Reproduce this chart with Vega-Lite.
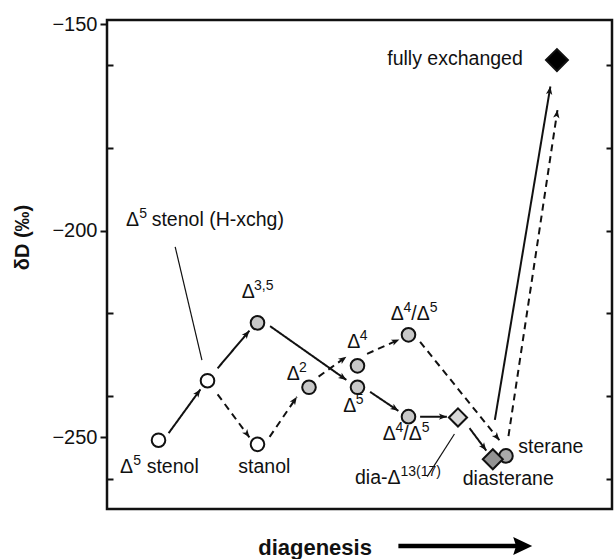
{
  "$schema": "https://vega.github.io/schema/vega-lite/v6.json",
  "autosize": "none",
  "width": 505,
  "height": 489,
  "padding": {"left": 107, "top": 20, "right": 2, "bottom": 50},
  "background": "white",
  "config": {
    "view": {"stroke": "#111111", "strokeWidth": 2.5},
    "font": "Liberation Sans",
    "text": {"font": "Liberation Sans", "color": "#111111"}
  },
  "datasets": {
    "nodes": [
      {"name": "Δ5 stenol", "x": 10.2, "y": -250.7, "kind": "precursor"},
      {"name": "Δ5 stenol (H-xchg)", "x": 19.9, "y": -236.3, "kind": "precursor"},
      {"name": "stanol", "x": 29.8, "y": -251.7, "kind": "precursor"},
      {"name": "Δ3,5", "x": 29.8, "y": -222.3, "kind": "intermediate"},
      {"name": "Δ2", "x": 40.0, "y": -237.9, "kind": "intermediate"},
      {"name": "Δ4", "x": 49.6, "y": -232.7, "kind": "intermediate"},
      {"name": "Δ5", "x": 49.6, "y": -237.9, "kind": "intermediate"},
      {"name": "Δ4/Δ5 (upper)", "x": 59.7, "y": -225.2, "kind": "intermediate"},
      {"name": "Δ4/Δ5 (lower)", "x": 59.7, "y": -245.0, "kind": "intermediate"},
      {"name": "dia-Δ13(17)", "x": 69.5, "y": -245.2, "kind": "dia-intermediate"},
      {"name": "sterane", "x": 79.0, "y": -254.5, "kind": "sterane"},
      {"name": "diasterane", "x": 76.4, "y": -255.3, "kind": "diasterane"},
      {"name": "fully exchanged", "x": 89.1, "y": -158.7, "kind": "exchanged"}
    ],
    "segments": [
      {"x": 12.2, "y": -249.0, "x2": 18.5, "y2": -238.4, "path": "solid"},
      {"x": 21.9, "y": -233.3, "x2": 28.2, "y2": -224.2, "path": "solid"},
      {"x": 21.9, "y": -239.6, "x2": 28.2, "y2": -250.0, "path": "dashed"},
      {"x": 32.2, "y": -249.9, "x2": 37.6, "y2": -240.2, "path": "dashed"},
      {"x": 32.3, "y": -223.1, "x2": 47.4, "y2": -236.1, "path": "solid"},
      {"x": 41.9, "y": -235.3, "x2": 47.4, "y2": -230.5, "path": "dashed"},
      {"x": 51.5, "y": -229.8, "x2": 57.9, "y2": -226.3, "path": "dashed"},
      {"x": 52.1, "y": -239.0, "x2": 57.7, "y2": -243.6, "path": "solid"},
      {"x": 62.0, "y": -245.0, "x2": 67.3, "y2": -245.0, "path": "solid"},
      {"x": 62.0, "y": -226.9, "x2": 77.7, "y2": -250.7, "path": "dashed"},
      {"x": 71.8, "y": -247.8, "x2": 75.1, "y2": -253.2, "path": "solid"},
      {"x": 76.8, "y": -245.8, "x2": 87.8, "y2": -165.1, "path": "solid"},
      {"x": 79.5, "y": -249.7, "x2": 89.2, "y2": -170.8, "path": "dashed"}
    ],
    "leaders": [
      {"x": 13.5, "y": -203.9, "x2": 18.8, "y2": -231.3},
      {"x": 68.8, "y": -249.2, "x2": 63.4, "y2": -259.5}
    ],
    "labels": [
      {"text": "Δ", "x": 2.57, "y": -258.64},
      {"text": "stenol", "x": 7.86, "y": -258.64},
      {"text": "stanol", "x": 26.0, "y": -258.71},
      {"text": "Δ", "x": 3.76, "y": -198.78},
      {"text": "stenol (H-xchg)", "x": 8.85, "y": -198.78},
      {"text": "Δ", "x": 26.67, "y": -216.36},
      {"text": "Δ", "x": 35.58, "y": -236.13},
      {"text": "Δ", "x": 47.58, "y": -228.46},
      {"text": "Δ", "x": 46.79, "y": -243.8},
      {"text": "Δ", "x": 56.18, "y": -221.61},
      {"text": "/Δ", "x": 60.26, "y": -221.61},
      {"text": "Δ", "x": 54.59, "y": -250.65},
      {"text": "/Δ", "x": 58.67, "y": -250.65},
      {"text": "dia-Δ", "x": 49.11, "y": -261.3},
      {"text": "diasterane", "x": 70.44, "y": -261.54},
      {"text": "sterane", "x": 81.45, "y": -253.87},
      {"text": "fully exchanged", "x": 55.5, "y": -159.89}
    ],
    "superscripts": [
      {"text": "5", "x": 5.21, "y": -256.7},
      {"text": "5", "x": 6.4, "y": -196.85},
      {"text": "3,5", "x": 29.11, "y": -214.42},
      {"text": "2", "x": 38.02, "y": -234.19},
      {"text": "4", "x": 50.06, "y": -226.52},
      {"text": "5", "x": 49.27, "y": -241.86},
      {"text": "4", "x": 58.71, "y": -219.67},
      {"text": "5", "x": 63.9, "y": -219.67},
      {"text": "4", "x": 57.13, "y": -248.71},
      {"text": "5", "x": 62.32, "y": -248.71},
      {"text": "13(17)", "x": 58.12, "y": -259.36}
    ],
    "xlabel": [
      {"text": "diagenesis", "x": 41.2, "y": -278.4}
    ],
    "xarrow": [
      {"x": 57.7, "x2": 81.5, "y": -276.3, "tipx": 84.2}
    ]
  },
  "encoding": {
    "x": {"field": "x", "type": "quantitative", "scale": {"domain": [0, 100], "nice": false, "zero": false}, "axis": null},
    "y": {"field": "y", "type": "quantitative", "scale": {"domain": [-267.35, -149.0], "nice": false, "zero": false}, "axis": null}
  },
  "layer": [
    {
      "data": {"name": "leaders"},
      "mark": {"type": "rule", "color": "#111111", "strokeWidth": 1.2},
      "encoding": {
        "x2": {"field": "x2"},
        "y2": {"field": "y2"}
      }
    },
    {
      "data": {"name": "segments"},
      "mark": {"type": "rule", "color": "#111111", "strokeWidth": 2},
      "encoding": {
        "x2": {"field": "x2"},
        "y2": {"field": "y2"},
        "strokeDash": {"field": "path", "type": "nominal", "scale": {"domain": ["solid", "dashed"], "range": [[1, 0], [7, 5]]}, "legend": null}
      }
    },
    {
      "data": {"name": "segments"},
      "transform": [
        {"calculate": "atan2((datum.x2 - datum.x) * 5.05, (datum.y2 - datum.y) * 4.132) * 180 / PI", "as": "ang"}
      ],
      "mark": {"type": "point", "shape": "M0,0 L-0.8,2 L0,1.5 L0.8,2 Z", "filled": true, "color": "#111111", "size": 64, "opacity": 1},
      "encoding": {
        "x": {"field": "x2", "type": "quantitative", "scale": {"domain": [0, 100], "nice": false, "zero": false}, "axis": null},
        "y": {"field": "y2", "type": "quantitative", "scale": {"domain": [-267.35, -149.0], "nice": false, "zero": false}, "axis": null},
        "angle": {"field": "ang", "type": "quantitative", "scale": null}
      }
    },
    {
      "data": {"name": "nodes"},
      "mark": {"type": "point", "filled": true, "stroke": "#111111", "strokeWidth": 2, "opacity": 1},
      "encoding": {
        "y": {
          "field": "y", "type": "quantitative",
          "scale": {"domain": [-267.35, -149.0], "nice": false, "zero": false},
          "axis": {
            "orient": "left",
            "title": "δD (‰)",
            "titleFontSize": 20,
            "titleFontWeight": "bold",
            "titleColor": "#111111",
            "titleFont": "Liberation Sans",
            "titleAngle": 270,
            "titleX": -85,
            "titleY": 217,
            "titleAlign": "center",
            "titleBaseline": "middle",
            "values": [-150, -200, -250],
            "labelFontSize": 20,
            "labelColor": "#111111",
            "labelFont": "Liberation Sans",
            "labelPadding": 3,
            "tickSize": 7,
            "tickWidth": 2,
            "tickColor": "#111111",
            "domain": false,
            "grid": false
          }
        },
        "shape": {"field": "kind", "type": "nominal", "scale": {"domain": ["precursor", "intermediate", "dia-intermediate", "sterane", "diasterane", "exchanged"], "range": ["circle", "circle", "diamond", "circle", "diamond", "diamond"]}, "legend": null},
        "fill": {"field": "kind", "type": "nominal", "scale": {"domain": ["precursor", "intermediate", "dia-intermediate", "sterane", "diasterane", "exchanged"], "range": ["#ffffff", "#c8c8c8", "#d9d9d9", "#a9a9a9", "#939393", "#000000"]}, "legend": null},
        "size": {"field": "kind", "type": "nominal", "scale": {"type": "ordinal", "domain": ["precursor", "intermediate", "dia-intermediate", "sterane", "diasterane", "exchanged"], "range": [185, 185, 330, 185, 400, 480]}, "legend": null}
      }
    },
    {
      "data": {"name": "labels"},
      "mark": {"type": "text", "align": "left", "baseline": "alphabetic", "fontSize": 19.5, "color": "#111111"},
      "encoding": {
        "text": {"field": "text"},
        "y": {
          "field": "y", "type": "quantitative",
          "scale": {"domain": [-267.35, -149.0], "nice": false, "zero": false},
          "axis": {
            "orient": "right",
            "title": null,
            "values": [-160, -180, -200, -220, -240, -260],
            "labels": false,
            "tickSize": -6,
            "tickWidth": 2,
            "tickColor": "#111111",
            "domain": false,
            "grid": false
          }
        }
      }
    },
    {
      "data": {"name": "superscripts"},
      "mark": {"type": "text", "align": "left", "baseline": "alphabetic", "fontSize": 14, "color": "#111111"},
      "encoding": {
        "text": {"field": "text"},
        "y": {
          "field": "y", "type": "quantitative",
          "scale": {"domain": [-267.35, -149.0], "nice": false, "zero": false},
          "axis": {
            "orient": "left",
            "title": null,
            "values": [-160, -180, -220, -240, -260],
            "labels": false,
            "tickSize": -6,
            "tickWidth": 2,
            "tickColor": "#111111",
            "domain": false,
            "grid": false
          }
        }
      }
    },
    {
      "data": {"name": "xlabel"},
      "mark": {"type": "text", "align": "center", "baseline": "alphabetic", "fontSize": 22, "fontWeight": "bold", "color": "#111111"},
      "encoding": {"text": {"field": "text"}}
    },
    {
      "data": {"name": "xarrow"},
      "mark": {"type": "rule", "color": "#000000", "strokeWidth": 4.5},
      "encoding": {"x2": {"field": "x2"}}
    },
    {
      "data": {"name": "xarrow"},
      "mark": {"type": "point", "shape": "M0,0 L-2,-0.95 L-1.7,0 L-2,0.95 Z", "filled": true, "color": "#000000", "size": 361, "opacity": 1},
      "encoding": {
        "x": {"field": "tipx", "type": "quantitative", "scale": {"domain": [0, 100], "nice": false, "zero": false}, "axis": null}
      }
    }
  ],
  "resolve": {"axis": {"y": "independent"}}
}
